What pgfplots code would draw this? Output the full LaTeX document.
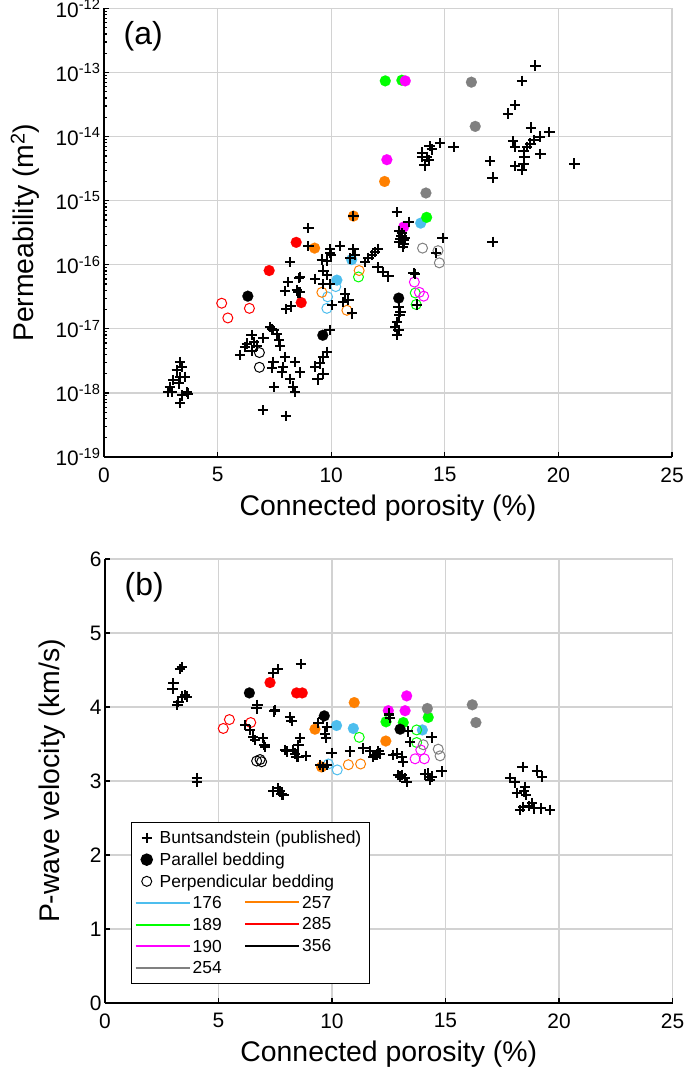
\documentclass[border=0pt]{standalone}
\usepackage{pgfplots}
\pgfplotsset{compat=1.18}
\usepackage{fontspec}
\setmainfont{Liberation Sans}

\definecolor{c176}{RGB}{77,190,238}
\definecolor{c189}{RGB}{0,255,0}
\definecolor{c190}{RGB}{255,0,255}
\definecolor{c254}{RGB}{128,128,128}
\definecolor{c257}{RGB}{255,128,0}
\definecolor{c285}{RGB}{255,0,0}
\definecolor{c356}{RGB}{0,0,0}
\definecolor{gridc}{RGB}{210,210,210}

\pgfplotsset{
 base/.style={scale only axis, xmin=0,xmax=25, xtick={0,5,...,25}, xticklabels={0,5,10,15,20,25},
  axis x line*=bottom, axis y line*=left, axis line style={-, line width=1.4bp, black},
  tick align=inside, major tick length=5bp, minor tick length=3bp, tick style={line width=1.2bp, black},
  grid=major, major grid style={gridc, line width=1.3bp},
  ticklabel style={font=\fontsize{21}{25}\selectfont},
  xticklabel style={yshift=-7bp},
  label style={font=\fontsize{28.5}{32}\selectfont},
  xlabel style={yshift=-6bp},
  xlabel={Connected porosity (\%)},
  clip=false,
 },
 pub/.style={only marks, mark=+, mark size=5.2bp, line width=2bp, black},
 par/.style={only marks, mark=*, mark size=5.5bp, color=#1, mark options={fill=#1, draw=#1, line width=0.1bp}},
 perp/.style={only marks, mark=o, mark size=5bp, color=#1, mark options={line width=1bp}},
 limg/.style={legend image code/.code={\draw[##1, line width=2bp] (0bp,0bp) -- (54bp,0bp);}},
 mimg/.style={legend image code/.code={\draw[##1] plot coordinates {(11bp,0bp)};}},
 legcommon/.style={font=\fontsize{17.5}{20}\selectfont, row sep=3.2bp, inner xsep=3bp, inner ysep=6bp,
     cells={anchor=west, text height=13bp, text depth=4bp, inner sep=1.5bp}},
}

\begin{document}
\begin{tikzpicture}
\useasboundingbox (0,0) rectangle (685bp,1075bp);

% ---------------- panel (a)
\begin{axis}[base, at={(104bp,618bp)}, anchor=south west, width=568bp, height=448.5bp,
  ymin=-19, ymax=-12, ytick={-19,-18,...,-12},
  yticklabels={10\textsuperscript{-19},10\textsuperscript{-18},10\textsuperscript{-17},10\textsuperscript{-16},10\textsuperscript{-15},10\textsuperscript{-14},10\textsuperscript{-13},10\textsuperscript{-12}},
  minor ytick={-18.699,-18.523,-18.398,-18.301,-18.222,-18.155,-18.097,-18.046,
               -17.699,-17.523,-17.398,-17.301,-17.222,-17.155,-17.097,-17.046,
               -16.699,-16.523,-16.398,-16.301,-16.222,-16.155,-16.097,-16.046,
               -15.699,-15.523,-15.398,-15.301,-15.222,-15.155,-15.097,-15.046,
               -14.699,-14.523,-14.398,-14.301,-14.222,-14.155,-14.097,-14.046,
               -13.699,-13.523,-13.398,-13.301,-13.222,-13.155,-13.097,-13.046,
               -12.699,-12.523,-12.398,-12.301,-12.222,-12.155,-12.097,-12.046},
  ylabel={Permeability (m\textsuperscript{2})},
  ylabel style={at={(axis description cs:-0.139,0.5)}, anchor=center},
]
% parallel bedding (filled)
\addplot[par=c176] coordinates {(13.94,-15.35)(10.9,-15.92)(10.25,-16.24)};
\addplot[par=c189] coordinates {(12.38,-13.13)(13.11,-13.12)(14.2,-15.26)};
\addplot[par=c190] coordinates {(13.26,-13.13)(12.45,-14.36)(13.19,-15.41)};
\addplot[par=c254] coordinates {(16.17,-13.15)(16.34,-13.84)(14.17,-14.88)};
\addplot[par=c257] coordinates {(12.35,-14.70)(10.98,-15.24)(9.27,-15.74)};
\addplot[par=c285] coordinates {(8.46,-15.65)(7.27,-16.09)(8.68,-16.59)};
\addplot[par=c356] coordinates {(12.97,-16.52)(9.63,-17.10)(6.33,-16.49)};
% perpendicular bedding (open)
\addplot[perp=c176] coordinates {(10.2,-16.34)(9.84,-16.50)(9.81,-16.68)};
\addplot[perp=c189] coordinates {(11.2,-16.19)(13.7,-16.44)(13.74,-16.62)};
\addplot[perp=c190] coordinates {(13.66,-16.27)(13.88,-16.43)(14.07,-16.49)};
\addplot[perp=c254] coordinates {(14.02,-15.74)(14.7,-15.78)(14.76,-15.97)};
\addplot[perp=c257] coordinates {(11.23,-16.09)(9.59,-16.43)(10.69,-16.71)};
\addplot[perp=c285] coordinates {(5.18,-16.60)(6.4,-16.68)(5.45,-16.83)};
\addplot[perp=c356] coordinates {(6.84,-17.37)(6.84,-17.60)};
% Buntsandstein (published)
\addplot[pub] coordinates {
(3.35,-17.52)(3.42,-17.60)(3.2,-17.65)(3.57,-17.75)(3.05,-17.80)(3.35,-17.75)(2.9,-17.91)(2.98,-17.99)(3.42,-18.04)(3.64,-17.99)(3.35,-18.16)(3.71,-18.01)(2.83,-17.99)(3.3,-17.85)
(5.99,-17.41)(6.21,-17.28)(6.5,-17.10)(6.61,-17.21)(7.02,-17.14)(7.31,-16.97)(7.46,-17.02)(7.6,-17.08)(7.71,-17.18)(7.75,-17.26)(6.73,-17.26)(6.5,-17.34)(6.29,-17.23)(7.4,-17.0)
(7.97,-17.44)(7.87,-17.60)(7.83,-17.68)(8.19,-17.78)(8.31,-17.90)(8.41,-17.99)(7.46,-17.52)(7.39,-17.61)(7.49,-17.91)(8.41,-17.52)(8.63,-17.68)
(6.99,-18.27)(8.0,-18.36)
(9.81,-17.36)(9.66,-17.44)(9.52,-17.54)(9.3,-17.59)(9.66,-17.70)(9.4,-17.79)(9.93,-17.02)
(8.59,-16.21)(8.09,-16.27)(7.97,-16.41)(8.56,-16.43)(8.02,-16.69)(8.22,-16.65)(8.19,-15.96)
(9.0,-15.43)(9.0,-15.71)(9.96,-15.82)(10.4,-15.71)(9.81,-15.94)(9.59,-15.92)(9.96,-15.76)(10.0,-15.84)
(10.98,-15.24)(10.98,-15.76)(11.06,-15.84)(10.84,-15.90)
(12.04,-15.75)(11.94,-15.80)(11.79,-15.85)(11.64,-15.89)(11.5,-15.96)
(12.04,-16.04)(12.3,-16.11)(12.52,-16.18)
(9.66,-16.09)(9.81,-16.16)(9.3,-16.22)(8.63,-16.19)(9.96,-16.30)(9.66,-16.30)(10.03,-16.63)(10.62,-16.45)(10.76,-16.55)(10.54,-16.58)(10.91,-16.76)(8.63,-16.43)(8.49,-16.40)
(12.97,-16.66)(13.0,-16.79)(12.9,-16.89)(12.82,-16.97)(12.97,-17.02)(12.9,-17.10)(13.05,-16.74)
(13.7,-16.14)(13.63,-16.13)(13.77,-16.62)
(12.89,-15.18)(13.41,-15.33)(13.11,-15.51)(13.19,-15.62)(13.0,-15.47)(13.1,-15.55)(13.05,-15.60)(13.2,-15.68)(13.15,-15.72)(13.0,-15.65)(13.25,-15.58)
(14.9,-15.58)(14.6,-15.82)(17.1,-15.64)
(14.8,-14.10)(15.39,-14.16)(14.33,-14.15)(14.43,-14.20)(14.0,-14.25)(14.2,-14.32)(14.0,-14.32)(14.29,-14.37)(14.11,-14.45)
(18.99,-12.89)(18.4,-13.13)(18.1,-13.51)(17.78,-13.64)(18.8,-13.86)(19.6,-13.93)(19.18,-14.0)(18.91,-14.05)(18.77,-14.11)(18.0,-14.07)(18.1,-14.16)(18.47,-14.22)(18.62,-14.16)(18.5,-14.32)(19.21,-14.27)(18.47,-14.42)(18.1,-14.46)(18.4,-14.52)(20.7,-14.42)(17.0,-14.38)(17.1,-14.64)
};
\node[font=\fontsize{32}{36}\selectfont] at (rel axis cs:0.069,0.937) {(a)};
\end{axis}

% ---------------- panel (b)
\begin{axis}[base, at={(105bp,72bp)}, anchor=south west, width=567.5bp, height=444bp,
  ymin=0, ymax=6, ytick={0,1,...,6}, yticklabels={0,1,2,3,4,5,6},
  ylabel={P-wave velocity (km/s)},
  ylabel style={at={(axis description cs:-0.093,0.5)}, anchor=center},
  legend style={legcommon, at={(axis description cs:0.0458,0.4077)}, anchor=north west, draw=black, line width=1.5bp, fill=white},
  legend cell align=left,
]
\addlegendimage{pub, mimg}
\addlegendentry{\hspace*{-33bp}Buntsandstein (published)\hspace*{3bp}}
\addlegendimage{only marks, mark=*, mark size=5.5bp, black, mimg}
\addlegendentry{\hspace*{-33bp}Parallel bedding}
\addlegendimage{only marks, mark=o, mark size=5bp, black, line width=1bp, mimg}
\addlegendentry{\hspace*{-33bp}Perpendicular bedding}
\addlegendimage{c176, limg}\addlegendentry{176}
\addlegendimage{c189, limg}\addlegendentry{189}
\addlegendimage{c190, limg}\addlegendentry{190}
\addlegendimage{c254, limg}\addlegendentry{254}
% parallel bedding (filled)
\addplot[par=c176, forget plot] coordinates {(10.2,3.75)(10.94,3.71)(13.98,3.69)};
\addplot[par=c189, forget plot] coordinates {(12.38,3.80)(13.14,3.79)(14.24,3.86)};
\addplot[par=c190, forget plot] coordinates {(12.48,3.95)(13.22,3.95)(13.29,4.15)};
\addplot[par=c254, forget plot] coordinates {(14.2,3.98)(16.18,4.03)(16.34,3.79)};
\addplot[par=c257, forget plot] coordinates {(10.98,4.06)(9.25,3.70)(12.37,3.54)(9.54,3.19)};
\addplot[par=c285, forget plot] coordinates {(7.27,4.33)(8.44,4.19)(8.69,4.19)};
\addplot[par=c356, forget plot] coordinates {(6.36,4.19)(9.66,3.88)(13.0,3.70)};
% perpendicular bedding (open)
\addplot[perp=c176, forget plot] coordinates {(9.84,3.23)(10.23,3.15)};
\addplot[perp=c189, forget plot] coordinates {(11.2,3.59)(13.73,3.69)(13.73,3.52)};
\addplot[perp=c190, forget plot] coordinates {(13.91,3.42)(13.66,3.30)(14.07,3.30)};
\addplot[perp=c254, forget plot] coordinates {(14.02,3.49)(14.68,3.43)(14.76,3.34)};
\addplot[perp=c257, forget plot] coordinates {(10.72,3.22)(11.26,3.23)};
\addplot[perp=c285, forget plot] coordinates {(5.48,3.83)(5.21,3.71)(6.42,3.79)};
\addplot[perp=c356, forget plot] coordinates {(6.68,3.27)(6.83,3.29)(6.9,3.26)};
% Buntsandstein (published)
\addplot[pub, forget plot] coordinates {
(3.38,4.54)(3.3,4.51)(3.01,4.32)(2.98,4.24)(3.38,4.14)(3.52,4.16)(3.6,4.14)(3.23,4.07)(3.19,4.03)(4.04,3.04)(4.04,2.99)
(7.61,4.51)(7.42,4.46)(8.63,4.58)
(6.71,4.03)(6.68,3.98)(7.46,3.94)(7.49,3.96)(8.15,3.86)(8.22,3.81)
(6.17,3.76)(6.39,3.69)(6.53,3.60)(6.61,3.55)(6.97,3.58)(7.05,3.46)(7.02,3.49)
(8.59,3.58)(8.52,3.49)(7.93,3.42)(8.0,3.40)(8.37,3.37)(8.44,3.33)(8.85,3.34)(8.3,3.42)(8.52,3.33)
(7.42,2.86)(7.71,2.86)(7.63,2.90)(7.78,2.82)(7.86,2.81)
(9.4,3.78)(9.77,3.73)(9.69,3.64)(9.74,3.58)(9.6,3.85)
(9.98,3.38)(9.62,3.19)(9.77,3.22)(9.47,3.22)
(10.79,3.40)(11.38,3.44)(11.67,3.40)(11.82,3.33)(11.97,3.36)(12.04,3.40)(11.89,3.35)
(12.52,3.89)(12.52,3.91)(12.55,3.85)(12.7,3.35)(12.92,3.08)
(13.36,3.67)(13.44,3.53)(14.39,3.59)(12.85,3.37)(13.07,3.33)(13.14,3.26)(12.11,3.37)
(13.07,3.08)(13.22,3.04)(13.29,2.99)(13.0,3.06)(14.24,3.10)(14.39,3.06)(14.83,3.13)(14.1,3.09)(14.32,3.02)
(18.4,3.19)(19.02,3.14)(19.24,3.06)(17.84,3.04)(18.06,2.98)(18.5,2.92)(18.14,2.84)(18.46,2.86)(18.55,2.81)(18.43,2.65)(18.66,2.66)(18.88,2.63)(19.2,2.63)(19.6,2.61)(18.28,2.61)(18.8,2.70)
};
\node[font=\fontsize{32}{36}\selectfont] at (rel axis cs:0.069,0.936) {(b)};
\end{axis}

% second legend column (257, 285, 356)
\begin{axis}[at={(105bp,72bp)}, anchor=south west, scale only axis, width=567.5bp, height=444bp,
  hide axis, xmin=0, xmax=1, ymin=0, ymax=1,
  legend style={legcommon, at={(axis description cs:0.2396,0.4077)}, anchor=north west, draw=none, fill=none},
  legend cell align=left,
]
\addlegendimage{empty legend}\addlegendentry{}
\addlegendimage{empty legend}\addlegendentry{}
\addlegendimage{empty legend}\addlegendentry{}
\addlegendimage{c257, limg}\addlegendentry{257}
\addlegendimage{c285, limg}\addlegendentry{285}
\addlegendimage{c356, limg}\addlegendentry{356}
\end{axis}
\end{tikzpicture}
\end{document}
